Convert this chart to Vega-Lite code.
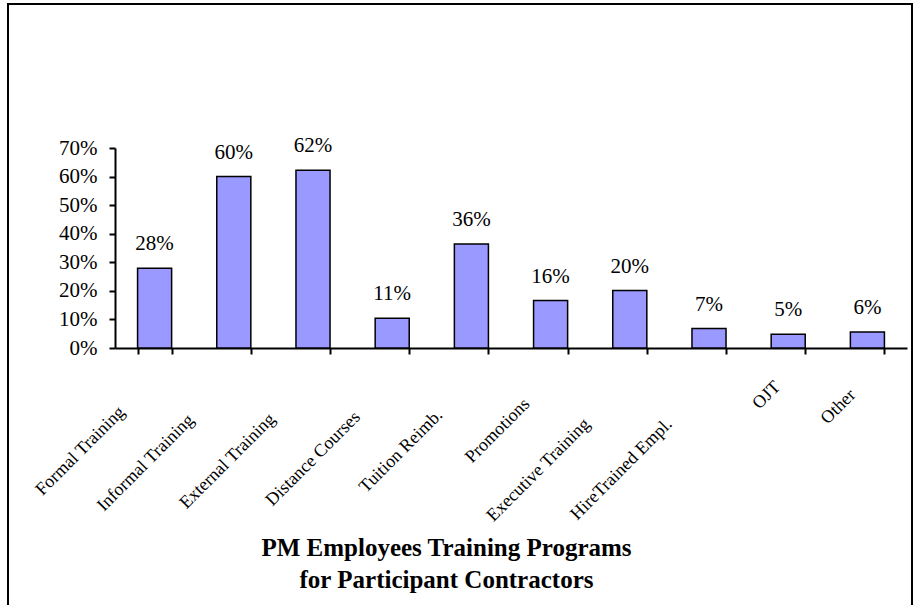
{
  "$schema": "https://vega.github.io/schema/vega-lite/v6.json",
  "width": 904,
  "height": 611,
  "autosize": {"type": "none"},
  "padding": {"left": 8, "top": 4, "right": 10, "bottom": -10},
  "background": "white",
  "config": {"view": {"stroke": "black", "strokeWidth": 2}, "font": "Liberation Serif"},
  "data": {
    "values": [
      {"program": "Formal Training", "share": 0.279, "label": "28%"},
      {"program": "Informal Training", "share": 0.600, "label": "60%"},
      {"program": "External Training", "share": 0.622, "label": "62%"},
      {"program": "Distance Courses", "share": 0.104, "label": "11%"},
      {"program": "Tuition Reimb.", "share": 0.364, "label": "36%"},
      {"program": "Promotions", "share": 0.166, "label": "16%"},
      {"program": "Executive Training", "share": 0.201, "label": "20%"},
      {"program": "HireTrained Empl.", "share": 0.068, "label": "7%"},
      {"program": "OJT", "share": 0.048, "label": "5%"},
      {"program": "Other", "share": 0.056, "label": "6%"}
    ]
  },
  "encoding": {
    "x": {
      "field": "program",
      "type": "nominal",
      "sort": null,
      "scale": {"range": [107, 899], "paddingInner": 0.57, "paddingOuter": 0.285},
      "axis": {
        "title": ["PM  Employees Training Programs", "for Participant Contractors"],
        "orient": "bottom",
        "offset": -267,
        "labelAngle": -45,
        "labelAlign": "right",
        "labelBaseline": "middle",
        "labelFont": "Liberation Serif",
        "labelFontSize": 18,
        "labelColor": "black",
        "labelOverlap": false,
        "labelOffset": {"expr": "({'Formal Training': -33, 'Informal Training': -43, 'External Training': -41, 'Distance Courses': -35, 'Tuition Reimb.': -32, 'Promotions': -24, 'Executive Training': -43, 'HireTrained Empl.': -40, 'OJT': -11, 'Other': -15})[datum.value]"},
        "labelPadding": {"expr": "({'Formal Training': 55, 'Informal Training': 63, 'External Training': 62, 'Distance Courses': 60, 'Tuition Reimb.': 58, 'Promotions': 47, 'Executive Training': 67, 'HireTrained Empl.': 67, 'OJT': 30, 'Other': 38})[datum.value]"},
        "tickBand": "extent",
        "tickSize": 6,
        "tickWidth": 2,
        "tickColor": "black",
        "domainColor": "black",
        "domainWidth": 2,
        "grid": false,
        "titleFont": "Liberation Serif",
        "titleFontSize": 25,
        "titleFontWeight": "bold",
        "titleColor": "black",
        "titleX": 438,
        "titleY": 207,
        "titleAlign": "center",
        "titleBaseline": "alphabetic",
        "titleLineHeight": 32
      }
    },
    "y": {
      "field": "share",
      "type": "quantitative",
      "scale": {"domain": [0, 0.7], "range": [344, 144], "nice": false},
      "axis": {
        "title": null,
        "orient": "left",
        "offset": -107,
        "values": [0, 0.1, 0.2, 0.3, 0.4, 0.5, 0.6, 0.7],
        "format": ".0%",
        "labelFont": "Liberation Serif",
        "labelFontSize": 21,
        "labelColor": "black",
        "labelPadding": 12,
        "tickSize": 6,
        "tickWidth": 2,
        "tickColor": "black",
        "domainColor": "black",
        "domainWidth": 2,
        "grid": false
      }
    }
  },
  "layer": [
    {"mark": {"type": "bar", "fill": "#9999FF", "stroke": "black", "strokeWidth": 1.5}},
    {
      "mark": {"type": "text", "baseline": "alphabetic", "dy": -18, "fontSize": 21, "font": "Liberation Serif", "color": "black"},
      "encoding": {"text": {"field": "label"}}
    }
  ]
}
